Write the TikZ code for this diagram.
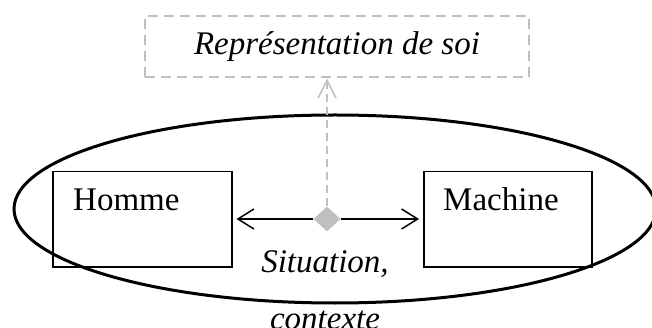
\documentclass[tikz,border=0pt]{standalone}
\usepackage{fontspec}
\setmainfont{Liberation Serif}
\usetikzlibrary{shapes.geometric,arrows.meta}
\definecolor{lightgr}{HTML}{C0C0C0}
\definecolor{diagr}{HTML}{BFBFBF}
\begin{document}
\begin{tikzpicture}[x=1pt,y=-1pt,
  box/.style={draw,line width=1.5pt,inner sep=0pt,anchor=north west},
  lbl/.style={font=\fontsize{33}{38}\selectfont,inner sep=0pt},
  ilbl/.style={font=\fontsize{33}{38}\selectfont\itshape,inner sep=0pt},
  dbox/.style={draw=lightgr,line width=2pt,dash pattern=on 10pt off 6pt,inner sep=0pt},
  conn/.style={line width=1.5pt,-{Straight Barb[length=16pt,width=20pt,line width=1.5pt]},shorten >=4pt},
  gconn/.style={lightgr,line width=1.5pt,dash pattern=on 8pt off 5pt,-{Straight Barb[length=18pt,width=18pt,line width=1.5pt]}},
  dia/.style={diamond,fill=diagr,draw=none,minimum width=27pt,minimum height=25pt,inner sep=0pt}
]
\useasboundingbox (0,0) rectangle (652,328);
\draw[line width=3pt] (335,209) ellipse [x radius=321, y radius=94];
\node[box,minimum width=179pt,minimum height=95pt] (homme) at (52,171) {};
\node[lbl,anchor=base west] (hommet) at (73,211) {Homme};
\node[box,minimum width=168pt,minimum height=95pt] (machine) at (423,171) {};
\node[lbl,anchor=base west] (machinet) at (443,211) {Machine};
\node[dbox,minimum width=384pt,minimum height=61pt] (rep) at (337,47) {};
\node[ilbl,anchor=base] (rept) at (337,55) {Représentation de soi};
\node[dia] (d) at (327,219) {};
\draw[conn] (d.west) -- (d.west -| homme.east);
\draw[conn] (d.east) -- (d.east -| machine.west);
\draw[gconn] (d.north) -- (d.north |- rep.south);
\node[ilbl,anchor=base,align=center,font=\fontsize{33}{57}\selectfont\itshape] (sit) at (325,329) {Situation,\\contexte};
\end{tikzpicture}
\end{document}
